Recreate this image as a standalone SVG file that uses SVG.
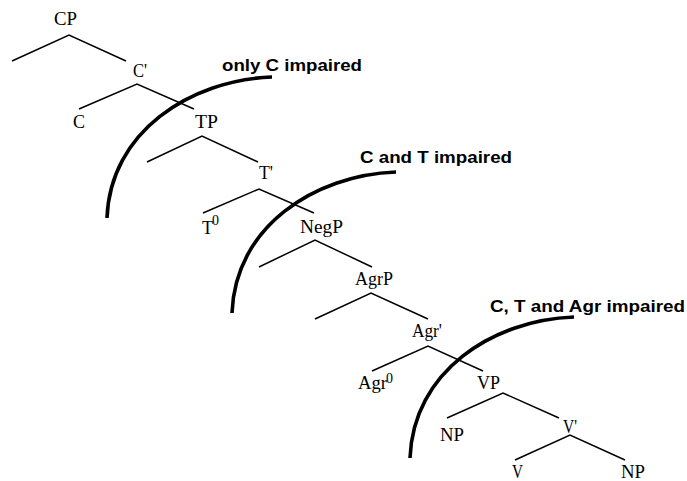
<svg xmlns="http://www.w3.org/2000/svg" width="687" height="481" viewBox="0 0 687 481">
<style>
.n{font-family:"Liberation Serif","Times New Roman",serif;font-size:18px;fill:#000}
.s{font-family:"Liberation Serif","Times New Roman",serif;font-size:14px;fill:#000}
.b{font-family:"Liberation Sans",Arial,sans-serif;font-size:16.5px;font-weight:bold;fill:#000}
.e{stroke:#000;stroke-width:1.5;fill:none}
.arc{stroke:#000;stroke-width:3.6;fill:none}
</style>
<rect width="687" height="481" fill="#fff"/>
<g id="connectors">
<path class="e" d="M12,61L69,35L126,61"/>
<path class="e" d="M79,109L137,84L194,109"/>
<path class="e" d="M147,162L202,136L258,162"/>
<path class="e" d="M203,213L259,189L314,213"/>
<path class="e" d="M259,267L315,240L372,267"/>
<path class="e" d="M315,319L371,293L428,319"/>
<path class="e" d="M372,371L428,346L483,371"/>
<path class="e" d="M447,418L503,393L559,418"/>
<path class="e" d="M515,460L570,435L625,460"/>
</g>
<g id="CP"><text class="n" x="54" y="25" textLength="23" lengthAdjust="spacingAndGlyphs">CP</text></g>
<g id="Cbar"><text class="n" x="133" y="77" textLength="14" lengthAdjust="spacingAndGlyphs">C'</text></g>
<g id="C"><text class="n" x="73" y="128" textLength="12" lengthAdjust="spacingAndGlyphs">C</text></g>
<g id="TP"><text class="n" x="195" y="128" textLength="23" lengthAdjust="spacingAndGlyphs">TP</text></g>
<g id="Tbar"><text class="n" x="259" y="179" textLength="14" lengthAdjust="spacingAndGlyphs">T'</text></g>
<g id="T0"><text class="n" x="202" y="234" textLength="11" lengthAdjust="spacingAndGlyphs">T</text><text class="s" x="212" y="225">0</text></g>
<g id="NegP"><text class="n" x="300" y="233" textLength="43" lengthAdjust="spacingAndGlyphs">NegP</text></g>
<g id="AgrP"><text class="n" x="355" y="285" textLength="38" lengthAdjust="spacingAndGlyphs">AgrP</text></g>
<g id="Agrbar"><text class="n" x="412" y="337" textLength="30" lengthAdjust="spacingAndGlyphs">Agr'</text></g>
<g id="Agr0"><text class="n" x="358" y="389" textLength="29" lengthAdjust="spacingAndGlyphs">Agr</text><text class="s" x="386" y="383">0</text></g>
<g id="VP"><text class="n" x="477" y="389" textLength="23" lengthAdjust="spacingAndGlyphs">VP</text></g>
<g id="NP1"><text class="n" x="440" y="441" textLength="24" lengthAdjust="spacingAndGlyphs">NP</text></g>
<g id="Vbar"><text class="n" x="563" y="433" textLength="14" lengthAdjust="spacingAndGlyphs">V'</text></g>
<g id="V"><text class="n" x="512" y="478" textLength="11" lengthAdjust="spacingAndGlyphs">V</text></g>
<g id="NP2"><text class="n" x="621" y="478" textLength="24" lengthAdjust="spacingAndGlyphs">NP</text></g>
<g id="boundary1"><path class="arc" d="M272,77C190,80 110,132 107,218"/><text class="b" x="222" y="71" textLength="140" lengthAdjust="spacingAndGlyphs">only C impaired</text></g>
<g id="boundary2"><path class="arc" d="M396,172C314,175 235,227 232,313"/><text class="b" x="360" y="163" textLength="152" lengthAdjust="spacingAndGlyphs">C and T impaired</text></g>
<g id="boundary3"><path class="arc" d="M574,317C492,320 413,372 410,458"/><text class="b" x="490" y="312" textLength="195" lengthAdjust="spacingAndGlyphs">C, T and Agr impaired</text></g>
</svg>
